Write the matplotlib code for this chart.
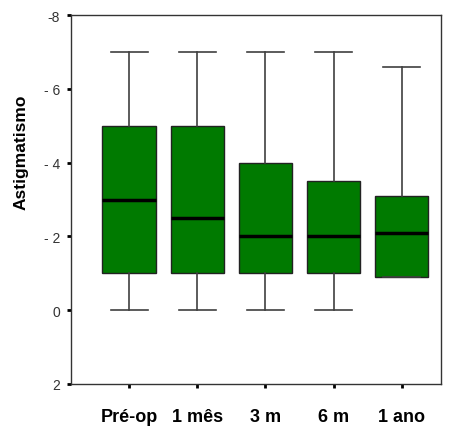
import matplotlib.pyplot as plt

plt.rcParams['font.family'] = ['Liberation Sans', 'DejaVu Sans']
plt.rcParams['axes.unicode_minus'] = False

# Dados
grupos = ['Pré-op', '1 mês', '3 m', '6 m', '1 ano']
whisk_baixo = [0, 0, 0, 0, -0.9]
q1 = [-1, -1, -1, -1, -0.9]
mediana = [-3, -2.5, -2, -2, -2.1]
q3 = [-5, -5, -4, -3.5, -3.1]
whisk_alto = [-7, -7, -7, -7, -6.6]
y_ticks = [-8, -6, -4, -2, 0, 2]
y_ticklabels = ['-8', '- 6', '- 4', '- 2', '0', '2']

stats = []
for i, g in enumerate(grupos):
    stats.append(dict(label=g, whislo=whisk_baixo[i], q1=q1[i], med=mediana[i],
                      q3=q3[i], whishi=whisk_alto[i], fliers=[]))

fig = plt.figure(figsize=(4.53, 4.35), dpi=100)
ax = fig.add_axes([0.157, 0.115, 0.816, 0.848])

ax.bxp(stats, positions=range(1, 6), widths=0.78, patch_artist=True,
       showfliers=False, capwidths=0.54,
       boxprops=dict(facecolor='#007a00', edgecolor='#222222', linewidth=1),
       medianprops=dict(color='black', linewidth=2.5),
       whiskerprops=dict(color='#404040', linewidth=1.2),
       capprops=dict(color='#404040', linewidth=1.2))

ax.set_ylim(2, -8)
ax.set_xlim(0.15, 5.57)
ax.set_yticks(y_ticks)
ax.set_yticklabels(y_ticklabels)
ax.set_xticks(range(1, 6))
ax.set_xticklabels(grupos, fontsize=13, fontweight='bold')
ax.tick_params(axis='x', length=3, width=2, pad=14)
ax.tick_params(axis='y', length=3, width=2, labelsize=10, pad=5, labelcolor='#333333')
ax.set_ylabel('Astigmatismo', fontsize=12.5, fontweight='bold')
ax.yaxis.set_label_coords(-0.116, 0.63)

for s in ax.spines.values():
    s.set_color('#333333')
    s.set_linewidth(1)

fig.savefig('out.png', dpi=100)
